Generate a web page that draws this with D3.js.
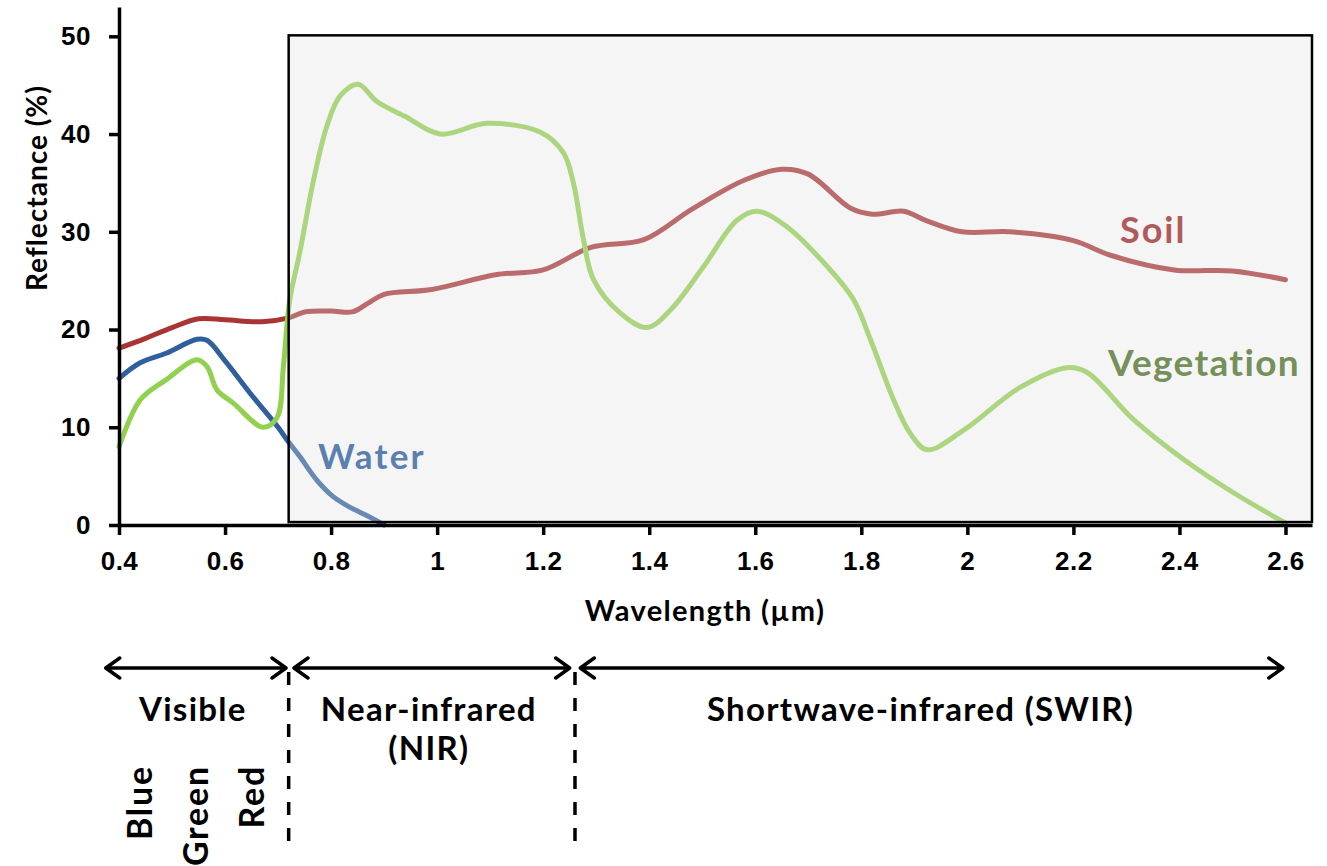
<!DOCTYPE html>
<meta charset="utf-8">
<style>
body { margin: 0; background: #fff; }
svg { font-family: Lato, "Open Sans", sans-serif; font-weight: 700; }
.axis path, .axis line { stroke: #000; stroke-width: 3.5px; }
.axis text { font-size: 26px; fill: #000; font-weight: 700; letter-spacing: 0.5px; }
.curve { fill: none; stroke-width: 5px; stroke-linecap: round; stroke-linejoin: round; }
</style>
<body>
<script src="https://cdn.jsdelivr.net/npm/d3@7"></script>
<script>

// spectral reflectance curves (wavelength in um, reflectance in %)
var soilWl = [0.40,0.45,0.50,0.55,0.60,0.67,0.72,0.75,0.80,0.84,0.87,0.90,0.99,1.11,1.20,1.29,1.39,1.48,1.58,1.65,1.70,1.78,1.82,1.88,1.92,1.99,2.08,2.20,2.27,2.39,2.50,2.60];
var soil   = [18.1,19.1,20.2,21.1,21.0,20.8,21.2,21.8,21.9,21.8,22.7,23.6,24.1,25.6,26.1,28.4,29.2,32.3,35.3,36.4,35.9,32.4,31.8,32.1,31.2,30.0,30.0,29.1,27.6,26.1,26.0,25.1];

var vegWl = [0.40,0.44,0.49,0.547,0.566,0.585,0.615,0.672,0.698,0.71,0.722,0.741,0.767,0.792,0.817,0.851,0.887,0.94,1.006,1.094,1.194,1.238,1.257,1.276,1.295,1.345,1.396,1.44,1.502,1.566,1.604,1.66,1.723,1.785,1.817,1.861,1.892,1.924,1.993,2.10,2.189,2.226,2.313,2.408,2.502,2.60];
var veg   = [8.0,12.8,14.9,16.9,16.2,13.8,12.5,10.0,11.0,16.2,23.0,27.9,35.3,40.8,43.9,45.1,43.3,41.8,40.0,41.1,40.2,38.1,35.0,29.2,25.1,21.7,20.2,22.0,26.4,31.2,32.1,30.5,27.2,23.1,19.0,12.8,9.4,7.7,9.7,14.1,16.1,15.6,10.8,6.7,3.3,0.2];

var waterWl = [0.40,0.44,0.49,0.547,0.566,0.60,0.65,0.70,0.717,0.741,0.773,0.804,0.836,0.87,0.90];
var water   = [15.0,16.6,17.6,19.0,18.9,16.8,13.3,10.0,8.7,7.0,4.6,2.9,1.8,0.9,0.0];

var xTicks = [0.4,0.6,0.8,1.0,1.2,1.4,1.6,1.8,2.0,2.2,2.4,2.6];
var yTicks = [0,10,20,30,40,50];

// spectral regions (wavelength spans of the arrows) and the band borders
var bandNames  = ["Visible", "Near-infrared", "Shortwave-infrared (SWIR)"];
var bandStart  = [0.375, 0.73, 1.27];
var bandEnd    = [0.715, 1.25, 2.595];
var bandBorders = [0.72, 1.26];
var colourNames = ["Blue", "Green", "Red"];
var colourWl    = [0.44, 0.545, 0.65];

var width = 1327, height = 866;

var x = d3.scaleLinear().domain([0.4, 2.65]).range([119, 1312]);
var y = d3.scaleLinear().domain([0, 53]).range([525, 7]);

var svg = d3.select("body").append("svg")
    .attr("width", width)
    .attr("height", height);

var line = d3.line()
    .curve(d3.curveCatmullRom.alpha(0.5))
    .x(function(d) { return x(d[0]); })
    .y(function(d) { return y(d[1]); });

function pairs(xs, ys) { return xs.map(function(v, i) { return [v, ys[i]]; }); }

svg.append("path").attr("class", "curve")
    .attr("stroke", "#a83434")
    .attr("d", line(pairs(soilWl, soil)));
svg.append("path").attr("class", "curve")
    .attr("stroke", "#2f5f9c")
    .attr("d", line(pairs(waterWl, water)));
svg.append("path").attr("class", "curve")
    .attr("stroke", "#92d050")
    .attr("d", line(pairs(vegWl, veg)));

// the grey box over NIR + SWIR
svg.append("rect")
    .attr("x", x(0.72)).attr("y", y(50.1))
    .attr("width", x(2.65) - x(0.72)).attr("height", y(0.3) - y(50.1))
    .attr("fill", "#e0e0e0").attr("fill-opacity", 0.33)
    .attr("stroke", "#000").attr("stroke-width", 2.5);

// axes
svg.append("g")
    .attr("class", "axis")
    .attr("transform", "translate(0," + y(0) + ")")
    .call(d3.axisBottom(x).tickValues(xTicks).tickSize(10).tickPadding(17).tickSizeOuter(0)
      .tickFormat(function(d) { return String(+d.toFixed(1)); }));

svg.append("g")
    .attr("class", "axis")
    .attr("transform", "translate(" + x(0.4) + ",0)")
    .call(d3.axisLeft(y).tickValues(yTicks).tickSize(10).tickPadding(18).tickSizeOuter(0));

svg.append("text")
    .attr("transform", "translate(47,188) rotate(-90)")
    .attr("text-anchor", "middle")
    .style("font-size", "28px")
    .style("letter-spacing", "1px")
    .text("Reflectance (%)");

svg.append("text")
    .attr("x", 705).attr("y", 621)
    .attr("text-anchor", "middle")
    .style("font-size", "29px")
    .style("letter-spacing", "1.3px")
    .text("Wavelength (\u00b5m)");

// curve labels
svg.append("text").attr("x", 1120).attr("y", 243)
    .style("font-size", "36px").style("letter-spacing", "2px")
    .attr("fill", "#b05b5b").text("Soil");
svg.append("text").attr("x", 1108).attr("y", 376)
    .style("font-size", "37px").style("letter-spacing", "1.3px")
    .attr("fill", "#76905a").text("Vegetation");
svg.append("text").attr("x", 318).attr("y", 469)
    .style("font-size", "35px").style("letter-spacing", "2.2px")
    .attr("fill", "#5b80b0").text("Water");

// spectral region arrows
var arrowY = 668;
bandNames.forEach(function(name, i) {
  var x0 = x(bandStart[i]), x1 = x(bandEnd[i]);
  svg.append("path")
      .attr("d", "M" + x0 + "," + arrowY + "H" + x1 +
                 "M" + (x0 + 14) + "," + (arrowY - 10) + "L" + x0 + "," + arrowY + "L" + (x0 + 14) + "," + (arrowY + 10) +
                 "M" + (x1 - 14) + "," + (arrowY - 10) + "L" + x1 + "," + arrowY + "L" + (x1 - 14) + "," + (arrowY + 10))
      .attr("fill", "none").attr("stroke", "#000").attr("stroke-width", 3.5)
      .attr("stroke-linecap", "round").attr("stroke-linejoin", "round");
  svg.append("text")
      .attr("x", (x0 + x1) / 2 - (i == 2 ? 8 : 0) - 3).attr("y", 721)
      .attr("text-anchor", "middle")
      .style("font-size", "33px")
      .style("letter-spacing", "1.3px")
      .text(name);
});
svg.append("text")
    .attr("x", (x(bandStart[1]) + x(bandEnd[1])) / 2 - 3).attr("y", 760)
    .attr("text-anchor", "middle")
    .style("font-size", "33px")
    .style("letter-spacing", "1.3px")
    .text("(NIR)");

bandBorders.forEach(function(b) {
  svg.append("line")
      .attr("x1", x(b)).attr("x2", x(b))
      .attr("y1", 672).attr("y2", 850)
      .attr("stroke", "#000").attr("stroke-width", 3.5)
      .attr("stroke-dasharray", "13,13");
});

colourNames.forEach(function(name, i) {
  svg.append("text")
      .attr("transform", "translate(" + x(colourWl[i]) + ",765) rotate(-90)")
      .attr("dy", "0.36em")
      .attr("text-anchor", "end")
      .style("font-size", "34px")
      .style("letter-spacing", "1.8px")
      .text(name);
});

</script>
</body>
